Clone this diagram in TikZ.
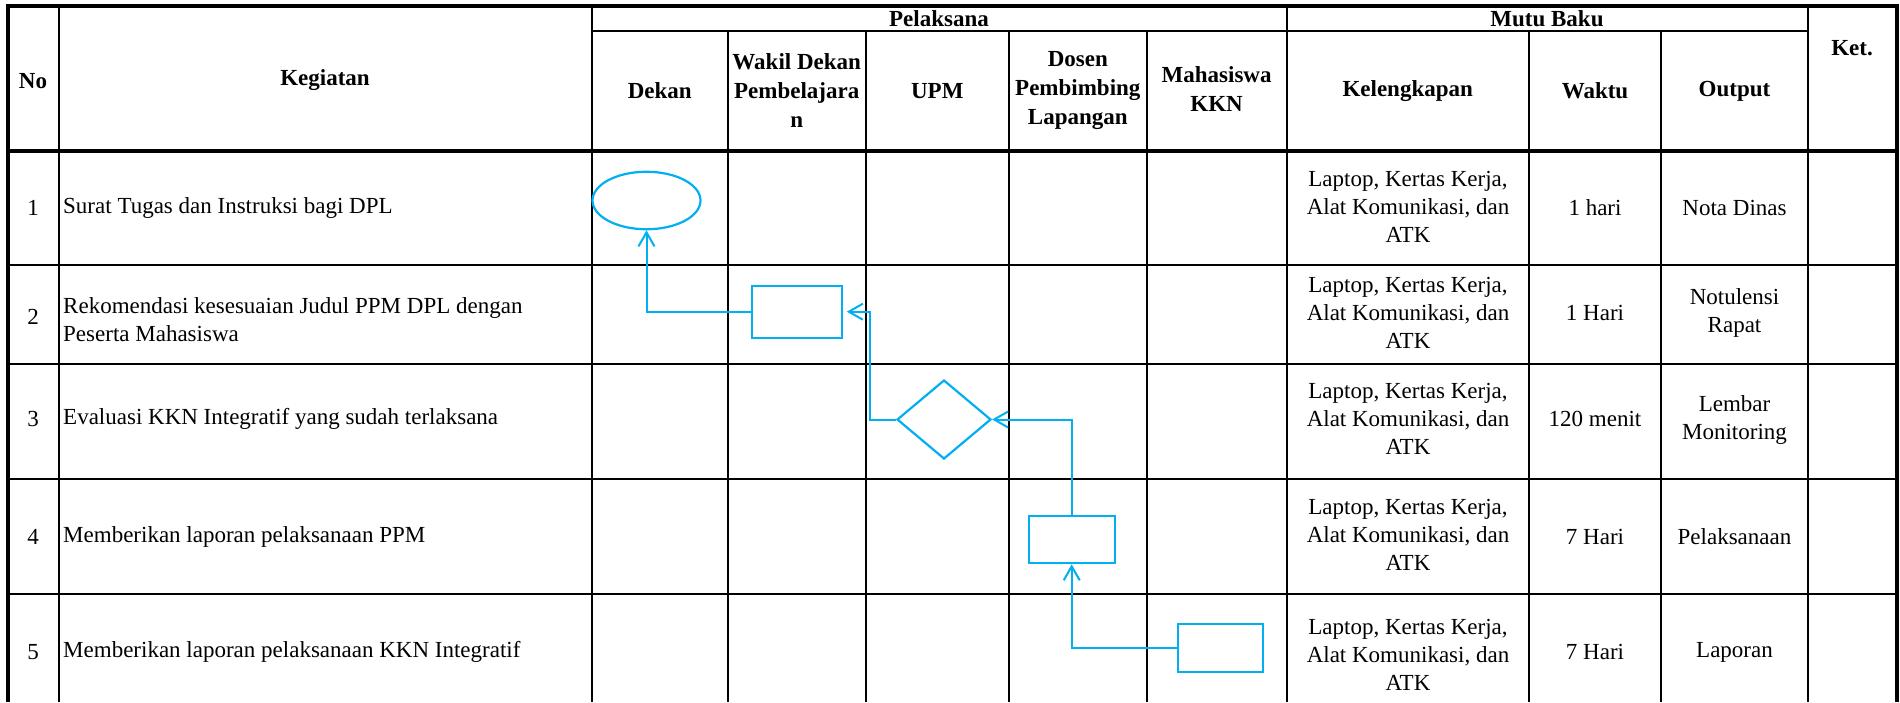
\documentclass[tikz,border=0pt]{standalone}
\usepackage{fontspec}
\setmainfont{Liberation Serif}
\usetikzlibrary{shapes.geometric,arrows.meta}
\definecolor{flowc}{RGB}{0,176,240}
\tikzset{
  gridln/.style={line width=2pt, draw=black},
  frameln/.style={line width=4pt, draw=black},
  hd/.style={font=\bfseries\fontsize{23}{29}\selectfont, align=center, inner sep=0pt},
  bd/.style={font=\fontsize{23}{28}\selectfont, align=center, inner sep=0pt},
  bdl/.style={font=\fontsize{23}{28}\selectfont, align=left, inner sep=0pt, anchor=west},
  flowshape/.style={draw=flowc, line width=2.2pt, inner sep=0pt},
  conn/.style={draw=flowc, line width=2pt, -{Straight Barb[length=14pt,width=16pt,line width=2pt]}},
}
\begin{document}
\begin{tikzpicture}[x=1pt,y=-1pt]
\useasboundingbox (0,0) rectangle (1900,702);
\fill[white] (0,0) rectangle (1900,702);

% ---------- grid ----------
\draw[gridln] (591.7,31) -- (1808,31);
\foreach \yy in {265,363.7,479,593.7}
  \draw[gridln] (7.5,\yy) -- (1897,\yy);
\foreach \xx in {59,591.7,1286.5,1808}
  \draw[gridln] (\xx,6) -- (\xx,702);
\foreach \xx in {727.7,865.7,1009,1146.7,1529,1661}
  \draw[gridln] (\xx,31) -- (\xx,702);
\draw[frameln] (5.5,6) -- (1899,6);
\draw[frameln] (7.5,150.7) -- (1897,150.7);
\draw[frameln] (7.5,4) -- (7.5,702);
\draw[frameln] (1897,4) -- (1897,702);

% ---------- header ----------
\node[hd] (hNo) at (33,81) {No};
\node[hd] (hKeg) at (325,80) {Kegiatan};
\node[hd] (hPel) at (939,18.5) {Pelaksana};
\node[hd] (hMutu) at (1547,18.5) {Mutu Baku};
\node[hd] (hKet) at (1852,48) {Ket.};
\node[hd] (hDek) at (659.7,91) {Dekan};
\node[hd] (hWak) at (796.7,91) {Wakil Dekan\\Pembelajara\\n};
\node[hd] (hUPM) at (937.3,91) {UPM};
\node[hd] (hDos) at (1077.8,91) {Dosen\\Pembimbing\\Lapangan};
\node[hd] (hMhs) at (1216.6,89.5) {Mahasiswa\\KKN};
\node[hd] (hKel) at (1407.7,91) {Kelengkapan};
\node[hd] (hWkt) at (1595,91) {Waktu};
\node[hd] (hOut) at (1734.5,91) {Output};

% ---------- body ----------
\node[bd] (n1) at (33,208) {1};
\node[bd] (n2) at (33,317) {2};
\node[bd] (n3) at (33,419) {3};
\node[bd] (n4) at (33,537) {4};
\node[bd] (n5) at (33,652) {5};

\node[bdl] (k1) at (63,208) {Surat Tugas dan Instruksi bagi DPL};
\node[bdl] (k2) at (63,320) {Rekomendasi kesesuaian Judul PPM DPL dengan\\Peserta Mahasiswa};
\node[bdl] (k3) at (63,419) {Evaluasi KKN Integratif yang sudah terlaksana};
\node[bdl] (k4) at (63,537) {Memberikan laporan pelaksanaan PPM};
\node[bdl] (k5) at (63,652) {Memberikan laporan pelaksanaan KKN Integratif};

\node[bd] (l1) at (1408,207) {Laptop, Kertas Kerja,\\Alat Komunikasi, dan\\ATK};
\node[bd] (l2) at (1408,313) {Laptop, Kertas Kerja,\\Alat Komunikasi, dan\\ATK};
\node[bd] (l3) at (1408,419) {Laptop, Kertas Kerja,\\Alat Komunikasi, dan\\ATK};
\node[bd] (l4) at (1408,535) {Laptop, Kertas Kerja,\\Alat Komunikasi, dan\\ATK};
\node[bd] (l5) at (1408,655) {Laptop, Kertas Kerja,\\Alat Komunikasi, dan\\ATK};

\node[bd] (w1) at (1595,208) {1 hari};
\node[bd] (w2) at (1595,313) {1 Hari};
\node[bd] (w3) at (1595,419) {120 menit};
\node[bd] (w4) at (1595,537) {7 Hari};
\node[bd] (w5) at (1595,652) {7 Hari};

\node[bd] (o1) at (1734.5,208) {Nota Dinas};
\node[bd] (o2) at (1734.5,313) {Notulensi\\Rapat};
\node[bd] (o3) at (1734.5,420) {Lembar\\Monitoring};
\node[bd] (o4) at (1734.5,537) {Pelaksanaan};
\node[bd] (o5) at (1734.5,652) {Laporan};

% ---------- flow ----------
\node[flowshape, ellipse, minimum width=108pt, minimum height=57.5pt] (s1) at (646.5,200.5) {};
\node[flowshape, rectangle, minimum width=90pt, minimum height=52pt] (r1) at (796.7,311.7) {};
\node[flowshape, diamond, minimum width=94pt, minimum height=79pt] (d1) at (944,419.5) {};
\node[flowshape, rectangle, minimum width=86pt, minimum height=47pt] (r2) at (1071.7,539.7) {};
\node[flowshape, rectangle, minimum width=84.7pt, minimum height=48pt] (r3) at (1220.3,647.8) {};

\draw[conn] (r1.west) -| (s1.south);
\draw[conn, shorten >=4pt] (d1.west) -- ++(-26,0) |- (r1.east);
\draw[conn] (r2.north) |- (d1.east);
\draw[conn] (r3.west) -| (r2.south);
\end{tikzpicture}
\end{document}
